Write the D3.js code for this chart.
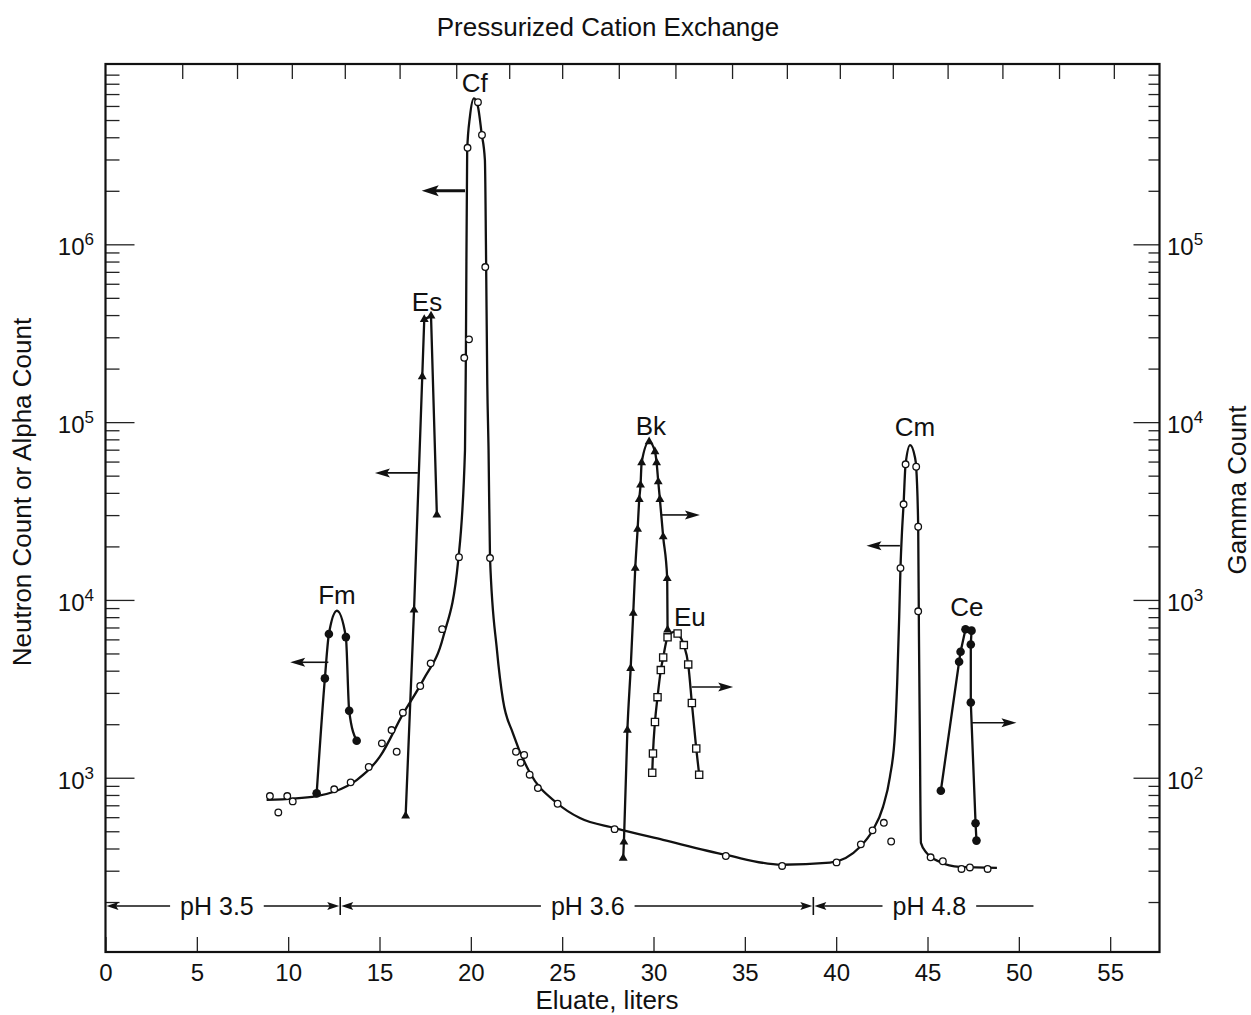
<!DOCTYPE html>
<html>
<head>
<meta charset="utf-8">
<script src="https://cdn.jsdelivr.net/npm/d3@7"></script>
<style>
  body { margin: 0; background: #fff; }
  svg { display: block; font-family: "Liberation Sans", Arial, Helvetica, sans-serif; }
</style>
</head>
<body>
<svg id="chart" width="1251" height="1015"></svg>
<script>
// ---- data (x in liters, y in counts) ----
// Cf / Cm elution curve, left axis (neutron / alpha count)
const cfCmLine = [[8.82,750],[11.56,789],[12.51,834],[13.75,970],[15.02,1313],[16.30,2300],[17.39,3540],
  [18.49,6210],[19.31,16750],[19.68,69600],[19.73,254000],[19.80,3.39e6],[19.95,5.22e6],[20.17,6.62e6],
  [20.39,5.94e6],[20.59,4.21e6],[20.77,2.98e6],[20.83,929000],[20.90,165000],[20.97,69600],[21.05,17200],
  [21.43,5220],[21.76,2735],[22.30,1783],[23.24,1063],[24.71,721],[25.97,593],[27.89,521],[30.52,447],
  [33.96,368],[37.03,324],[39.66,333],[41.30,408],[42.01,508],[42.56,684],[42.94,1009],[43.22,1782],
  [43.34,3410],[43.45,8020],[43.52,15100],[43.60,23770],[43.69,34600],[43.80,58100],[44.05,74300],
  [44.31,63600],[44.38,55900],[44.49,25700],[44.53,6510],[44.58,1782],[44.64,430],[44.95,378],
  [45.68,336],[46.77,315],[48.80,311]];
const cfCmPoints = [[9.00,789],[9.95,789],[10.25,736],[9.46,638],[12.52,861],[13.42,942],[14.41,1149],
  [15.13,1561],[15.94,1400],[15.66,1854],[16.28,2322],[17.23,3280],[17.80,4400],[18.43,6850],[19.35,17400],
  [19.64,230000],[19.90,292000],[19.82,3.49e6],[20.39,6.30e6],[20.61,4.12e6],[20.79,745000],[21.05,17200],
  [22.47,1400],[22.92,1343],[22.73,1214],[23.22,1040],[23.67,875],[24.75,714],[27.87,514],[33.96,363],
  [37.04,319],[40.02,334],[41.35,422],[41.99,506],[42.61,558],[43.01,438],[43.80,57900],[44.38,56100],
  [43.69,34500],[44.49,25800],[43.52,15100],[44.49,8630],[45.17,357],[45.84,339],[46.86,307],[47.32,313],
  [48.29,307]];

// Fm, left axis, filled circles
const fmLine = [[11.56,817],[12.01,3620],[12.23,6430],[12.67,8690],[13.16,6180],[13.34,2380],[13.75,1615]];
const fmPoints = [[11.56,817],[12.01,3620],[12.23,6430],[13.16,6180],[13.34,2380],[13.75,1615]];

// Es, left axis, filled triangles
const esPoints = [[16.43,610],[16.89,8770],[17.34,180000],[17.45,378000],[17.82,396000],[18.14,30100]];

// Bk, right axis (gamma count), filled triangles
const bkPoints = [[28.34,35.3],[28.38,43.5],[28.57,185],[28.75,412],[28.89,841],[29.00,1507],[29.13,2496],
  [29.22,3680],[29.29,4430],[29.35,5910],[29.76,7760],[30.08,6820],[30.17,5910],[30.26,4620],[30.35,3680],
  [30.53,2265],[30.75,1320],[30.77,678]];

// Eu, right axis, open squares
const euLine = [[29.93,106.7],[29.97,137],[30.08,205.6],[30.22,284],[30.40,403],[30.53,475],[30.77,616],
  [31.17,663],[31.32,648],[31.66,557],[31.90,434],[32.10,263],[32.34,146],[32.50,104]];
const euPoints = [[29.93,106.7],[29.97,137],[30.08,205.6],[30.22,284],[30.40,403],[30.53,475],[30.77,616],
  [31.32,648],[31.66,557],[31.90,434],[32.10,263],[32.34,146],[32.50,104]];

// Ce, right axis, filled circles
const cePoints = [[45.73,84.5],[46.73,449],[46.81,511],[47.08,684],[47.41,672],[47.37,562],[47.37,265],
  [47.63,55.5],[47.68,44.3]];

// axis arrows: which axis a curve belongs to
const arrowAxis = ['L','L','L','R','R','L','R'];
const arrowY    = [2.0e6, 51800, 4460, 3006, 323.6, 20180, 203.7];
const arrowFrom = [19.68, 17.10, 12.20, 30.44, 32.09, 43.49, 47.44];
const arrowTo   = [17.31, 14.75, 10.11, 32.54, 34.36, 41.66, 49.87];
const arrowHeavy = [true, false, false, false, false, false, false];

// element labels (position in liters / left-axis counts)
const labelNames = ['Fm','Es','Cf','Bk','Eu','Cm','Ce'];
const labelX = [12.67, 17.60, 20.22, 29.86, 31.99, 44.31, 47.15];
const labelY = [10670, 473000, 8.07e6, 95100, 8020, 93800, 9120];

// pH regions along the bottom
const phLabels = ['pH 3.5','pH 3.6','pH 4.8'];
const phBounds = [0, 12.85, 38.75, 50.8];
const phLabelX = [6.1, 26.4, 45.1];
const phLevel = 190;   // left-axis counts where the pH line sits

// axes
const xTicks = [0,5,10,15,20,25,30,35,40,45,50,55];
const topTicks = [4.2,7.2,10.2,13.1,16.1,19.2,22.1,25.0,28.1,31.2,34.3,37.3,40.2,43.1,46.1,49.1,52.2,55.2];
const leftMajor = [1e3,1e4,1e5,1e6];
const rightMajor = [1e2,1e3,1e4,1e5];

// ---- drawing ----
const svg = d3.select('#chart');
const L = 105.5, R = 1159.5, T = 64, B = 952;
const x = d3.scaleLinear().domain([0, 57.7]).range([L, R]);
const yL = d3.scaleLog().domain([104.7, 1.033e7]).range([B, T]);
const yR = d3.scaleLog().domain([10.47, 1.033e6]).range([B, T]);

function minorTicks(scale) {
  const [lo, hi] = scale.domain();
  const out = [];
  for (let e = Math.floor(Math.log10(lo)); e <= Math.ceil(Math.log10(hi)); e++) {
    for (let m = 2; m <= 9; m++) {
      const v = m * Math.pow(10, e);
      if (v > lo && v < hi) out.push(v);
    }
  }
  return out;
}

// ticks
const axisStyle = g => { g.select('.domain').remove(); g.selectAll('line').attr('stroke','#222').attr('stroke-width',1.3); };
svg.append('g').attr('transform', `translate(0,${B})`)
  .call(d3.axisBottom(x).tickValues(xTicks).tickSize(-15).tickSizeOuter(0).tickPadding(12).tickFormat(d3.format('d')))
  .call(axisStyle)
  .call(g => g.selectAll('text').attr('font-size', 24).attr('fill','#111').attr('font-family','inherit'));
svg.append('g').attr('transform', `translate(0,${T})`)
  .call(d3.axisTop(x).tickValues(topTicks).tickSize(-15).tickSizeOuter(0).tickFormat(''))
  .call(axisStyle);
svg.append('g').attr('transform', `translate(${L},0)`)
  .call(d3.axisLeft(yL).tickValues(leftMajor).tickSize(-29).tickSizeOuter(0).tickFormat(''))
  .call(axisStyle);
svg.append('g').attr('transform', `translate(${L},0)`)
  .call(d3.axisLeft(yL).tickValues(minorTicks(yL)).tickSize(-14).tickSizeOuter(0).tickFormat(''))
  .call(axisStyle);
svg.append('g').attr('transform', `translate(${R},0)`)
  .call(d3.axisRight(yR).tickValues(rightMajor).tickSize(-26).tickSizeOuter(0).tickFormat(''))
  .call(axisStyle);
svg.append('g').attr('transform', `translate(${R},0)`)
  .call(d3.axisRight(yR).tickValues(minorTicks(yR)).tickSize(-11).tickSizeOuter(0).tickFormat(''))
  .call(axisStyle);

// power-of-ten labels
function powLabel(sel, v, scale, px, anchor) {
  const t = sel.append('text').attr('x', px).attr('y', scale(v) + 11)
    .attr('text-anchor', anchor).attr('font-size', 24).attr('fill', '#111');
  t.append('tspan').text('10');
  t.append('tspan').attr('dy', -10).attr('font-size', 17).text(Math.round(Math.log10(v)));
}
leftMajor.forEach(v => powLabel(svg, v, yL, 94, 'end'));
rightMajor.forEach(v => powLabel(svg, v, yR, 1167, 'start'));

// frame
svg.append('rect').attr('x', L).attr('y', T).attr('width', R - L).attr('height', B - T)
  .attr('fill', 'none').attr('stroke', '#111').attr('stroke-width', 2.2);

// curves
const plot = svg.append('g');
const lineL = d3.line().x(d => x(d[0])).y(d => yL(d[1]));
const lineR = d3.line().x(d => x(d[0])).y(d => yR(d[1]));
const stroke = p => p.attr('fill','none').attr('stroke','#111').attr('stroke-width',2.3).attr('stroke-linejoin','round');

plot.append('path').datum(cfCmLine).attr('d', lineL.curve(d3.curveMonotoneX)).call(stroke);
plot.append('path').datum(fmLine).attr('d', lineL.curve(d3.curveMonotoneX)).call(stroke);
plot.append('path').datum(esPoints).attr('d', lineL.curve(d3.curveLinear)).call(stroke);
plot.append('path').datum(bkPoints).attr('d', lineR.curve(d3.curveMonotoneX)).call(stroke);
plot.append('path').datum(euLine).attr('d', lineR.curve(d3.curveMonotoneX)).call(stroke);
plot.append('path').datum(cePoints).attr('d', lineR.curve(d3.curveLinear)).call(stroke);

// markers
const tri = d3.symbol().type(d3.symbolTriangle).size(34)();
const sq = d3.symbol().type(d3.symbolSquare).size(52)();
plot.selectAll('.cfpt').data(cfCmPoints).join('circle')
  .attr('cx', d => x(d[0])).attr('cy', d => yL(d[1])).attr('r', 3.3)
  .attr('fill', '#fff').attr('stroke', '#111').attr('stroke-width', 1.3);
plot.selectAll('.fmpt').data(fmPoints).join('circle')
  .attr('cx', d => x(d[0])).attr('cy', d => yL(d[1])).attr('r', 4.3).attr('fill', '#111');
plot.selectAll('.cept').data(cePoints).join('circle')
  .attr('cx', d => x(d[0])).attr('cy', d => yR(d[1])).attr('r', 4.3).attr('fill', '#111');
plot.selectAll('.espt').data(esPoints).join('path').attr('d', tri)
  .attr('transform', d => `translate(${x(d[0])},${yL(d[1])})`).attr('fill', '#111');
plot.selectAll('.bkpt').data(bkPoints).join('path').attr('d', tri)
  .attr('transform', d => `translate(${x(d[0])},${yR(d[1])})`).attr('fill', '#111');
plot.selectAll('.eupt').data(euPoints).join('path').attr('d', sq)
  .attr('transform', d => `translate(${x(d[0])},${yR(d[1])})`)
  .attr('fill', '#fff').attr('stroke', '#111').attr('stroke-width', 1.3);

// arrows showing which axis each curve reads on
function arrow(g, x1, x2, y, len, half, w) {
  const dir = Math.sign(x2 - x1);
  g.append('line').attr('x1', x1).attr('x2', x2 - dir * len * 0.5).attr('y1', y).attr('y2', y)
    .attr('stroke', '#111').attr('stroke-width', w);
  g.append('path').attr('d', `M${x2},${y}L${x2 - dir * len},${y - half}L${x2 - dir * len * 0.8},${y}L${x2 - dir * len},${y + half}Z`)
    .attr('fill', '#111');
}
arrowAxis.forEach((a, i) => {
  const sy = a === 'L' ? yL : yR;
  const heavy = arrowHeavy[i];
  arrow(plot, x(arrowFrom[i]), x(arrowTo[i]), sy(arrowY[i]), heavy ? 17 : 15, heavy ? 5.5 : 4.5, heavy ? 3 : 1.6);
});

// element labels
labelNames.forEach((n, i) => {
  plot.append('text').attr('x', x(labelX[i])).attr('y', yL(labelY[i])).attr('dy', '0.36em')
    .attr('text-anchor', 'middle').attr('font-size', 26).attr('fill', '#111').text(n);
});

// pH bands
const phY = yL(phLevel);
const ph = svg.append('g');
phLabels.forEach((lab, i) => {
  const t = ph.append('text').attr('x', x(phLabelX[i])).attr('y', phY).attr('dy', '0.36em')
    .attr('text-anchor', 'middle').attr('font-size', 25).attr('fill', '#111').text(lab);
  const w = t.node().getComputedTextLength();
  const tx0 = x(phLabelX[i]) - w / 2 - 10, tx1 = x(phLabelX[i]) + w / 2 + 10;
  const a0 = x(phBounds[i]), a1 = x(phBounds[i + 1]);
  arrow(ph, tx0, a0 + 1, phY, 12, 4, 1.6);
  if (i < phLabels.length - 1) arrow(ph, tx1, a1 - 1, phY, 12, 4, 1.6);
  else ph.append('line').attr('x1', tx1).attr('x2', a1).attr('y1', phY).attr('y2', phY)
    .attr('stroke', '#111').attr('stroke-width', 1.6);
});
phBounds.slice(1, 3).forEach(b => {
  ph.append('line').attr('x1', x(b)).attr('x2', x(b)).attr('y1', phY - 9).attr('y2', phY + 9)
    .attr('stroke', '#111').attr('stroke-width', 1.6);
});

// titles
svg.append('text').attr('x', 608).attr('y', 36).attr('text-anchor', 'middle')
  .attr('font-size', 26).attr('fill', '#111').text('Pressurized Cation Exchange');
svg.append('text').attr('x', 607).attr('y', 1009).attr('text-anchor', 'middle')
  .attr('font-size', 26).attr('fill', '#111').text('Eluate, liters');
svg.append('text').attr('transform', 'translate(31,492) rotate(-90)').attr('text-anchor', 'middle')
  .attr('font-size', 26).attr('fill', '#111').text('Neutron Count or Alpha Count');
svg.append('text').attr('transform', 'translate(1246,490) rotate(-90)').attr('text-anchor', 'middle')
  .attr('font-size', 26).attr('fill', '#111').text('Gamma Count');
</script>
</body>
</html>
